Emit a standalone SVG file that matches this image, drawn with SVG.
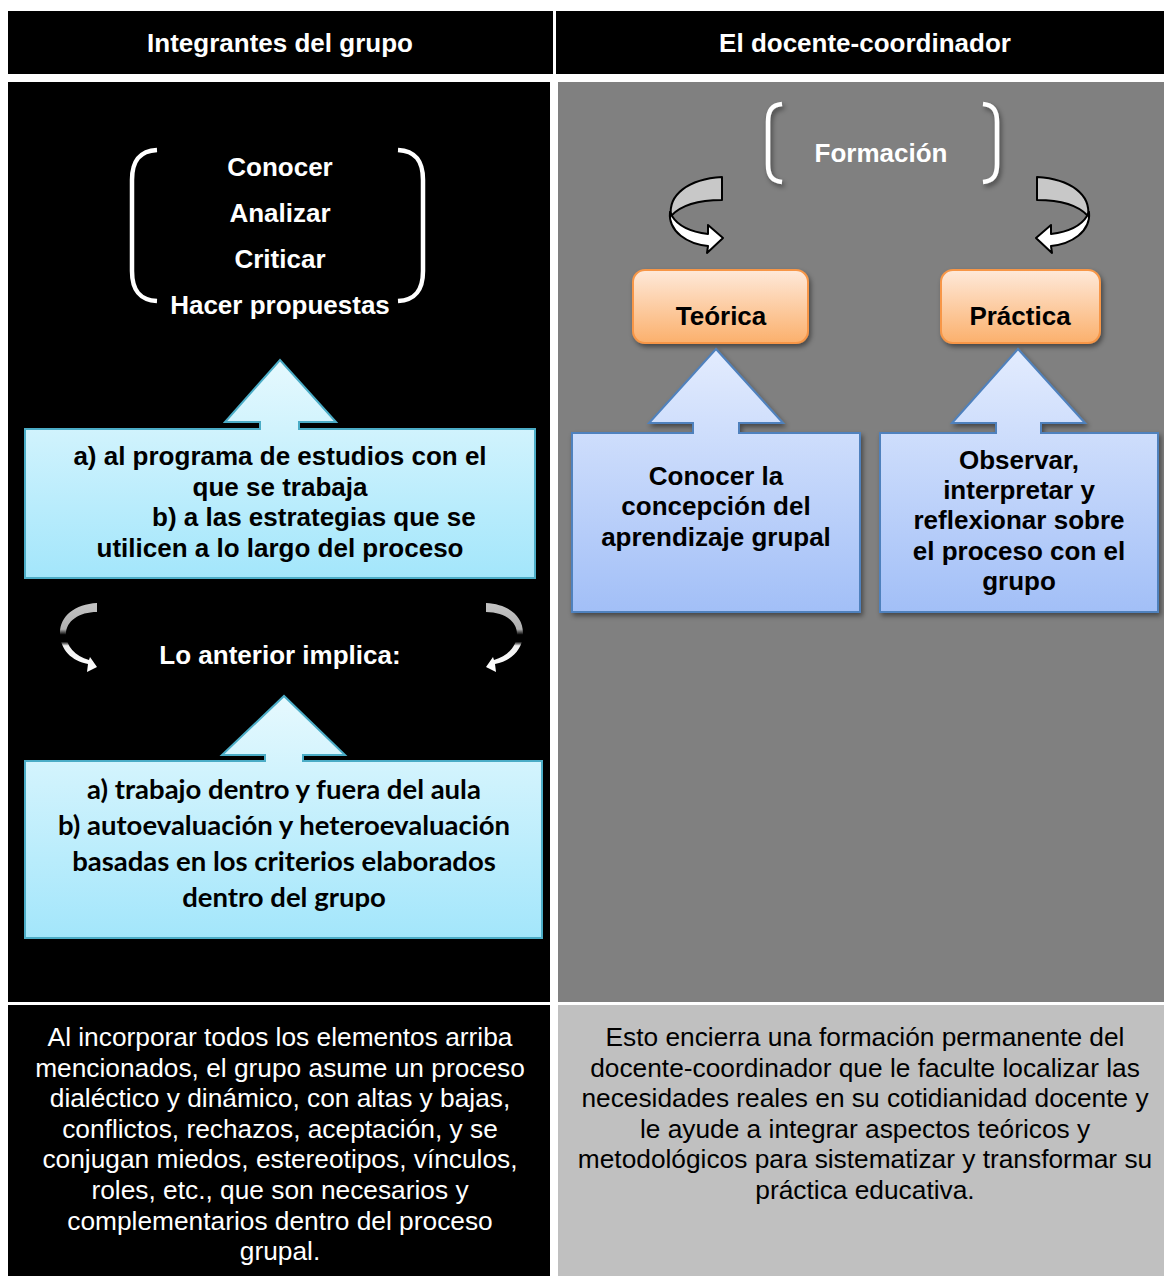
<svg xmlns="http://www.w3.org/2000/svg" width="1164" height="1276" viewBox="0 0 1164 1276">
<style>
.hd{font-family:"Liberation Sans",Arial,sans-serif;font-weight:bold;font-size:26px;fill:#fff;text-anchor:middle}
.wb{font-family:"Liberation Sans",Arial,sans-serif;font-weight:bold;font-size:26px;fill:#fff;text-anchor:middle}
.kb{font-family:"Liberation Sans",Arial,sans-serif;font-weight:bold;font-size:26px;fill:#000;text-anchor:middle}
.cb{font-family:Lato,"Open Sans",sans-serif;font-weight:bold;font-size:27.5px;fill:#000;text-anchor:middle}
.wr{font-family:"Liberation Sans",Arial,sans-serif;font-size:26.3px;fill:#fff;text-anchor:middle}
.kr{font-family:"Liberation Sans",Arial,sans-serif;font-size:26.3px;fill:#000;text-anchor:middle}
.brk{fill:none;stroke:#fff;stroke-width:4.5;stroke-linecap:butt}
.cyan{fill:url(#gCyan);stroke:#4bacc6;stroke-width:2}
.blue{fill:url(#gBlue);stroke:#4f81bd;stroke-width:2}
.orange{fill:url(#gOr);stroke:#f79646;stroke-width:2}
.rib{stroke:#000;stroke-width:2;stroke-linejoin:round}
</style>
<defs>
<linearGradient id="gCyan" x1="0" y1="0" x2="0" y2="1"><stop offset="0" stop-color="#e6f9fe"/><stop offset="1" stop-color="#a3e6fb"/></linearGradient>
<linearGradient id="gBlue" x1="0" y1="0" x2="0" y2="1"><stop offset="0" stop-color="#e3ecfe"/><stop offset="1" stop-color="#a2bff7"/></linearGradient>
<linearGradient id="gOr" x1="0" y1="0" x2="0" y2="1"><stop offset="0" stop-color="#fee9da"/><stop offset="1" stop-color="#fbb06c"/></linearGradient>
<linearGradient id="gCurve" x1="0" y1="0" x2="0" y2="1"><stop offset="0" stop-color="#c4c4c4"/><stop offset="0.38" stop-color="#b0b0b0"/><stop offset="0.46" stop-color="#000"/><stop offset="0.56" stop-color="#000"/><stop offset="0.62" stop-color="#f0f0f0"/><stop offset="1" stop-color="#fff"/></linearGradient>
<filter id="sh" x="-20%" y="-20%" width="140%" height="140%"><feDropShadow dx="2" dy="3" stdDeviation="2.5" flood-color="#000" flood-opacity="0.45"/></filter>
</defs>

<rect x="0" y="0" width="1164" height="1276" fill="#fff"/>

<g id="table">
<rect x="8" y="11" width="545" height="63" fill="#000"/>
<rect x="556" y="11" width="608" height="63" fill="#000"/>
<rect x="8" y="82" width="542" height="920" fill="#000"/>
<rect x="558" y="82" width="606" height="920" fill="#808080"/>
<rect x="8" y="1005" width="542" height="271" fill="#000"/>
<rect x="558" y="1005" width="606" height="271" fill="#c0c0c0"/>
</g>

<g id="header-left"><text class="hd" x="280" y="52">Integrantes del grupo</text></g>
<g id="header-right"><text class="hd" x="865" y="52">El docente-coordinador</text></g>

<g id="acciones">
<path class="brk" d="M157,150 C140,151 132,160 132,180 L132,271 C132,291 140,300 157,301"/>
<path class="brk" d="M398,150 C415,151 423,160 423,180 L423,271 C423,291 415,300 398,301"/>
<text class="wb" x="280" y="176">Conocer</text>
<text class="wb" x="280" y="222">Analizar</text>
<text class="wb" x="280" y="268">Criticar</text>
<text class="wb" x="280" y="314">Hacer propuestas</text>
</g>

<g id="callout-programa">
<path class="cyan" d="M25,429 L260,429 L260,422 L225,422 L280,360 L336,422 L299,422 L299,429 L535,429 L535,578 L25,578 Z"/>
<text class="kb" x="280" y="465">a) al programa de estudios con el</text>
<text class="kb" x="280" y="496">que se trabaja</text>
<text class="kb" x="152" y="526" style="text-anchor:start">b) a las estrategias que se</text>
<text class="kb" x="280" y="557">utilicen a lo largo del proceso</text>
</g>

<g id="implica">
<text class="wb" x="280" y="664">Lo anterior implica:</text>
</g>

<g id="callout-trabajo">
<path class="cyan" d="M25,761 L265,761 L265,755 L222,755 L284,696 L345,755 L303,755 L303,761 L542,761 L542,938 L25,938 Z"/>
<text class="cb" x="284" y="799">a) trabajo dentro y fuera del aula</text>
<text class="cb" x="284" y="835">b) autoevaluación y heteroevaluación</text>
<text class="cb" x="284" y="871">basadas en los criterios elaborados</text>
<text class="cb" x="284" y="907">dentro del grupo</text>
</g>

<g id="formacion">
<g filter="url(#sh)">
<path class="brk" d="M782,104 C772,105 768,110 768,122 L768,164 C768,176 772,181 782,182"/>
<path class="brk" d="M983,104 C993,105 997,110 997,122 L997,164 C997,176 993,181 983,182"/>
</g>
<text class="wb" x="881" y="162">Formación</text>
</g>

<g id="teorica">
<rect class="orange" x="633" y="270" width="175" height="73" rx="12" filter="url(#sh)"/>
<text class="kb" x="721" y="325">Teórica</text>
</g>
<g id="practica">
<rect class="orange" x="941" y="270" width="159" height="73" rx="12" filter="url(#sh)"/>
<text class="kb" x="1020" y="325">Práctica</text>
</g>

<g id="callout-concepcion">
<path class="blue" filter="url(#sh)" d="M572,433 L693,433 L693,423 L649,423 L716,349 L783,423 L739,423 L739,433 L860,433 L860,612 L572,612 Z"/>
<text class="kb" x="716" y="485">Conocer la</text>
<text class="kb" x="716" y="515">concepción del</text>
<text class="kb" x="716" y="546">aprendizaje grupal</text>
</g>

<g id="callout-observar">
<path class="blue" filter="url(#sh)" d="M880,433 L996,433 L996,423 L952,423 L1018,349 L1085,423 L1041,423 L1041,433 L1158,433 L1158,612 L880,612 Z"/>
<text class="kb" x="1019" y="469">Observar,</text>
<text class="kb" x="1019" y="499">interpretar y</text>
<text class="kb" x="1019" y="529">reflexionar sobre</text>
<text class="kb" x="1019" y="560">el proceso con el</text>
<text class="kb" x="1019" y="590">grupo</text>
</g>

<g id="connectors">
<g id="curve-left">
<path fill="url(#gCurve)" d="M97,603 C75,604 60,616 60,633 C60,650 72,661 88,664 L87,672 L97,667 L90,657 L89,660 C75,656 66,646 66,634 C66,621 79,612 97,612 Z"/>
</g>
<g id="curve-right" transform="translate(583,0) scale(-1,1)">
<path fill="url(#gCurve)" d="M97,603 C75,604 60,616 60,633 C60,650 72,661 88,664 L87,672 L97,667 L90,657 L89,660 C75,656 66,646 66,634 C66,621 79,612 97,612 Z"/>
</g>
<g id="ribbon-left">
<path class="rib" fill="#c8c8c8" d="M722,177 L722,200 C700,200 681,205 671,216 C668,195 688,179 722,177 Z"/>
<path class="rib" fill="#fff" d="M670,212 C668,232 688,244 708,246 L707,253 L723,238 L708,225 L708,234 C692,232 678,226 672,216 Z"/>
</g>
<g id="ribbon-right" transform="translate(1759,0) scale(-1,1)">
<path class="rib" fill="#c8c8c8" d="M722,177 L722,200 C700,200 681,205 671,216 C668,195 688,179 722,177 Z"/>
<path class="rib" fill="#fff" d="M670,212 C668,232 688,244 708,246 L707,253 L723,238 L708,225 L708,234 C692,232 678,226 672,216 Z"/>
</g>
</g>

<g id="texto-izquierda">
<text class="wr" x="280" y="1046">Al incorporar todos los elementos arriba</text>
<text class="wr" x="280" y="1077">mencionados, el grupo asume un proceso</text>
<text class="wr" x="280" y="1107">dialéctico y dinámico, con altas y bajas,</text>
<text class="wr" x="280" y="1138">conflictos, rechazos, aceptación, y se</text>
<text class="wr" x="280" y="1168">conjugan miedos, estereotipos, vínculos,</text>
<text class="wr" x="280" y="1199">roles, etc., que son necesarios y</text>
<text class="wr" x="280" y="1230">complementarios dentro del proceso</text>
<text class="wr" x="280" y="1260">grupal.</text>
</g>

<g id="texto-derecha">
<text class="kr" x="865" y="1046">Esto encierra una formación permanente del</text>
<text class="kr" x="865" y="1077">docente-coordinador que le faculte localizar las</text>
<text class="kr" x="865" y="1107">necesidades reales en su cotidianidad docente y</text>
<text class="kr" x="865" y="1138">le ayude a integrar aspectos teóricos y</text>
<text class="kr" x="865" y="1168">metodológicos para sistematizar y transformar su</text>
<text class="kr" x="865" y="1199">práctica educativa.</text>
</g>
</svg>
